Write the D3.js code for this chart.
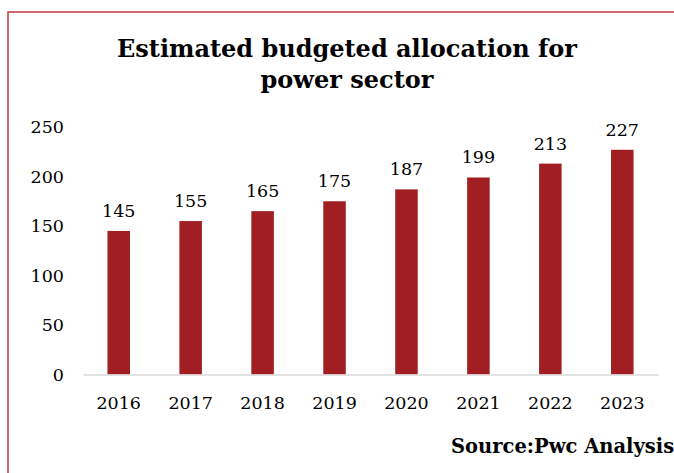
<!DOCTYPE html>
<html>
<head>
<meta charset="utf-8">
<script src="https://cdn.jsdelivr.net/npm/d3@7"></script>
<style>
  html, body { margin: 0; padding: 0; background: #fff; overflow: hidden; }
  svg { display: block; }
  text { font-family: "DejaVu Serif", "Liberation Serif", serif; fill: #000; }
</style>
</head>
<body>
<svg id="chart" width="674" height="473"></svg>
<script>
// Budget allocation per year
const years = ["2016", "2017", "2018", "2019", "2020", "2021", "2022", "2023"];
const allocation = [145, 155, 165, 175, 187, 199, 213, 227];
const yTicks = [0, 50, 100, 150, 200, 250];
const titleLines = ["Estimated budgeted allocation for", "power sector"];
const sourceNote = "Source:Pwc Analysis";

const svg = d3.select("#chart");

// outer frame
svg.append("rect")
  .attr("x", 8).attr("y", 12)
  .attr("width", 700).attr("height", 500)
  .attr("fill", "none")
  .attr("stroke", "#c0393b")
  .attr("stroke-width", 1.5);

// title
svg.append("g").selectAll("text")
  .data(titleLines)
  .join("text")
  .attr("x", 347)
  .attr("y", (d, i) => 57 + i * 31)
  .attr("text-anchor", "middle")
  .attr("font-size", 24)
  .attr("font-weight", "bold")
  .text(d => d);

const x = d3.scaleBand()
  .domain(years)
  .range([83, 658])
  .paddingInner(0.687)
  .paddingOuter(0.34);

const y = d3.scaleLinear()
  .domain([0, 250])
  .range([374.5, 127]);

// y-axis labels (no axis line)
const yAxis = svg.append("g")
  .attr("transform", "translate(64,0)")
  .call(d3.axisLeft(y).tickValues(yTicks).tickSize(0).tickPadding(0));
yAxis.select(".domain").remove();
yAxis.selectAll("text")
  .attr("font-size", 17.5)
  .attr("font-family", "DejaVu Serif, serif")
  .attr("fill", "#000");

// bars
svg.append("g").selectAll("rect")
  .data(allocation)
  .join("rect")
  .attr("x", (d, i) => x(years[i]))
  .attr("y", d => y(d))
  .attr("width", x.bandwidth())
  .attr("height", d => y(0) - y(d))
  .attr("fill", "#a11f22");

// baseline
const xAxis = svg.append("g")
  .attr("transform", `translate(0,${y(0)})`)
  .call(d3.axisBottom(x).tickSize(0).tickPadding(22));
xAxis.select(".domain")
  .attr("stroke", "#d9d9d9")
  .attr("stroke-width", 1.5);
xAxis.selectAll("text")
  .attr("font-size", 17.5)
  .attr("font-family", "DejaVu Serif, serif")
  .attr("fill", "#000");

// value labels
svg.append("g").selectAll("text")
  .data(allocation)
  .join("text")
  .attr("x", (d, i) => x(years[i]) + x.bandwidth() / 2)
  .attr("y", d => y(d) - 14)
  .attr("text-anchor", "middle")
  .attr("font-size", 17.5)
  .text(d => d);

// source note
svg.append("text")
  .attr("x", 451)
  .attr("y", 453)
  .attr("font-size", 19.5)
  .attr("font-weight", "bold")
  .text(sourceNote);
</script>
</body>
</html>
